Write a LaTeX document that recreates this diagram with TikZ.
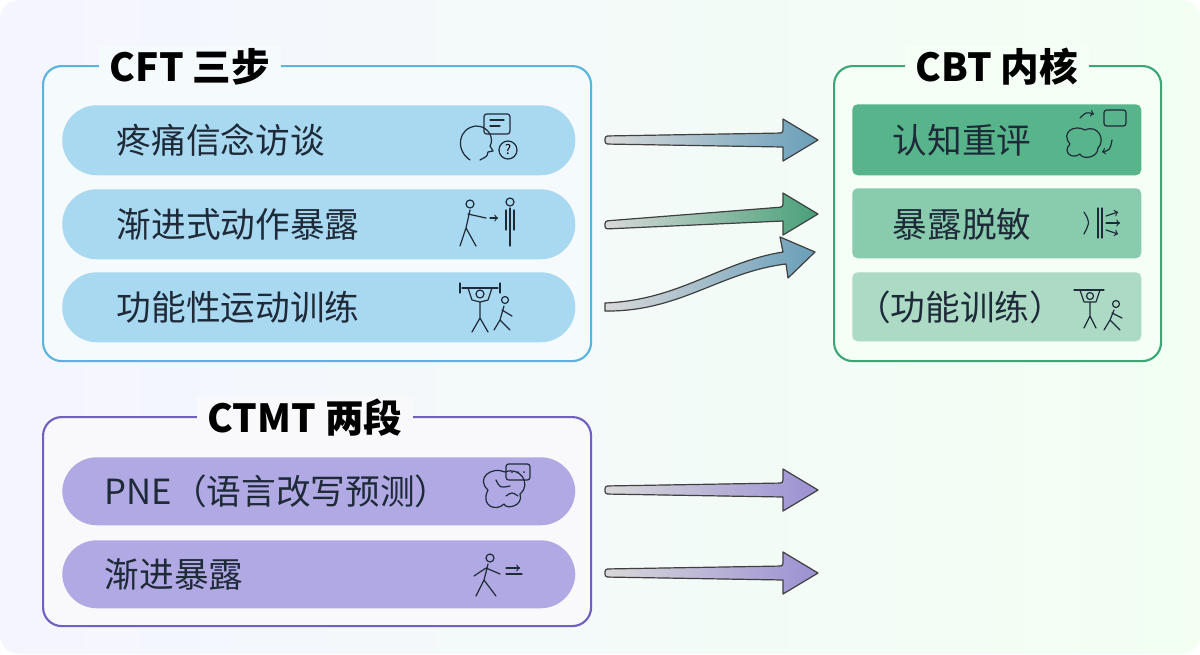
\documentclass[tikz,border=0pt]{standalone}
\usepackage{fontspec}
\setmainfont{Noto Sans CJK SC}
\usetikzlibrary{calc}
\definecolor{cftb}{HTML}{5AB4E0}
\definecolor{cftp}{HTML}{A9D8F1}
\definecolor{cbtb}{HTML}{3AA876}
\definecolor{ctb}{HTML}{7060C0}
\definecolor{ctp}{HTML}{B1A9E3}
\definecolor{ink}{HTML}{1E2A38}
\begin{document}
\begin{tikzpicture}[x=0.75pt,y=-0.75pt,
  box/.style={rounded corners=14pt,line width=1.6pt},
  pill/.style={rounded corners=26pt,draw=none},
  tile/.style={rounded corners=4pt,draw=none},
  ttl/.style={font=\bfseries\fontsize{29}{32}\selectfont,text=black,inner xsep=8pt,inner ysep=2pt},
  lbl/.style={font=\fontsize{26}{30}\selectfont,text=ink,anchor=west},
  clbl/.style={font=\fontsize{26}{30}\selectfont,text=ink},
  ic/.style={draw=ink,line width=0.9pt,line cap=round,line join=round},
  arr/.style={draw=black!75,line width=0.9pt,line join=round}]
\useasboundingbox (0,0) rectangle (1200,654);
\shade[left color=blue!4,right color=green!5,rounded corners=14pt] (0,0) rectangle (1200,654);
% CFT
\node[box,draw=cftb,fill=cftb!6,minimum width=548*0.75pt,minimum height=295*0.75pt,anchor=north west] (cft) at (42,65) {};
\node[ttl,fill=cftb!6] (cftt) at (190,67) {CFT 三步};
\node[pill,fill=cftp,minimum width=513*0.75pt,minimum height=70*0.75pt,anchor=north west] (p1) at (62,105) {};
\node[pill,fill=cftp,minimum width=513*0.75pt,minimum height=70*0.75pt,anchor=north west] (p2) at (62,189) {};
\node[pill,fill=cftp,minimum width=513*0.75pt,minimum height=70*0.75pt,anchor=north west] (p3) at (62,272) {};
\node[lbl] (l1) at (112,140) {疼痛信念访谈};
\node[lbl] (l2) at (112,224) {渐进式动作暴露};
\node[lbl] (l3) at (112,307) {功能性运动训练};
% CBT
\node[box,draw=cbtb,fill=green!4,minimum width=327*0.75pt,minimum height=295*0.75pt,anchor=north west] (cbt) at (833,65) {};
\node[ttl,fill=green!4] (cbtt) at (997,67) {CBT 内核};
\node[tile,fill=cbtb!85,minimum width=289*0.75pt,minimum height=71*0.75pt,anchor=north west] (g1) at (852,104) {};
\node[tile,fill=cbtb!60,minimum width=289*0.75pt,minimum height=70*0.75pt,anchor=north west] (g2) at (852,188) {};
\node[tile,fill=cbtb!42,minimum width=289*0.75pt,minimum height=69*0.75pt,anchor=north west] (g3) at (852,272) {};
\node[clbl] (m1) at (962,140) {认知重评};
\node[clbl] (m2) at (962,224) {暴露脱敏};
\node[clbl] (m3) at (960,307) {（功能训练）};
% CTMT
\node[box,draw=ctb,fill=ctb!4,minimum width=548*0.75pt,minimum height=209*0.75pt,anchor=north west] (ct) at (42,416) {};
\node[ttl,fill=ctb!4] (ctt) at (305,418) {CTMT 两段};
\node[pill,fill=ctp,minimum width=513*0.75pt,minimum height=68*0.75pt,anchor=north west] (q1) at (62,457) {};
\node[pill,fill=ctp,minimum width=513*0.75pt,minimum height=68*0.75pt,anchor=north west] (q2) at (62,540) {};
\node[lbl] (k1) at (100,491) {PNE（语言改写预测）};
\node[lbl] (k2) at (100,574) {渐进暴露};
% arrows
\foreach \n/\y/\yy/\c in {a/140/140/cftb!60!gray, b/225/214/cbtb!80!gray, d/490/490/ctb!70, e/573/573/ctb!70}{
 \coordinate (\n s) at (605,\y); \coordinate (\n e) at (818,\yy);
 \fill[arr,rounded corners=2pt,left color=gray!30,right color=\c] ($(\n s)+(0,-4)$) -- ($(\n e)+(-35,-7)$) [sharp corners] -- ($(\n e)+(-35,-21)$) -- (\n e) -- ($(\n e)+(-35,21)$) -- ($(\n e)+(-35,7)$) [rounded corners=2pt] -- ($(\n s)+(0,4)$) -- cycle;
}
\coordinate (cs) at (605,307); \coordinate (ce) at (815,252);
\fill[arr,left color=gray!30,right color=cftb!60!gray] ($(cs)+(0,-4)$) .. controls (680,300) and (720,262) .. (783,252) -- (780,237) -- (ce) -- (788,278) -- (786,264) .. controls (720,272) and (680,312) .. ($(cs)+(0,4)$) -- cycle;
% icons
\begin{scope}[ic]
 \draw (470,160) .. controls (455,150) and (458,128) .. (476,126) .. controls (490,126) and (494,140) .. (490,146) -- (493,151) -- (488,152) .. controls (488,158) and (482,158) .. (480,160);
 \draw[rounded corners=2pt] (484,114) rectangle (510,134); \draw (490,120)--(504,120) (490,126)--(500,126);
 \draw (508,150) circle (9); \node[font=\fontsize{10}{10}\selectfont] (qm) at (508,150) {?};
 \draw (470,204) circle (4); \draw (470,210)--(466,228)--(460,246) (466,228)--(476,246) (468,214)--(486,218);
 \draw[->] (490,218)--(498,218);
 \draw (510,202) circle (4); \draw (510,208)--(510,246) (506,210)--(506,230) (514,210)--(514,230);
 \draw (462,288)--(498,288); \draw (460,283)--(460,293) (500,283)--(500,293);
 \draw (480,294) circle (4); \draw (468,288)--(472,300)--(480,302)--(488,300)--(492,288) (480,302)--(480,318)--(472,332) (480,318)--(488,332);
 \draw (505,300) circle (3.5); \draw (504,306)--(500,320)--(494,330) (500,320)--(510,330) (502,310)--(512,316);
 \draw (488,490) .. controls (475,478) and (492,466) .. (505,472) .. controls (520,466) and (532,484) .. (520,494) .. controls (524,506) and (506,510) .. (504,504) .. controls (496,512) and (480,506) .. (488,490);
 \draw (496,480)..controls (500,488)..(510,486) (506,496)..controls(512,492)..(518,496);
 \draw[rounded corners=2pt] (506,464) rectangle (530,480); \fill[ink] (512,472) circle(1) (518,472) circle(1) (524,472) circle(1);
 \draw (490,558) circle (4); \draw (488,564)--(484,580)--(476,596) (484,580)--(496,596) (486,568)--(500,574) (486,568)--(474,576);
 \draw[->] (506,574)--(522,574) (506,568)--(520,568);
 \draw (1070,144) .. controls (1060,132) and (1075,124) .. (1085,130) .. controls (1098,124) and (1106,140) .. (1098,148) .. controls (1098,158) and (1082,160) .. (1080,154) .. controls (1072,160) and (1062,152) .. (1070,144);
 \draw[rounded corners=2pt] (1104,110) rectangle (1126,126); \draw[->] (1080,118)..controls(1086,112)..(1094,114); \draw[->] (1112,140)..controls(1110,150)..(1102,152);
 \draw (1098,208)--(1098,238) (1102,208)--(1102,238);
 \draw (1084,212)..controls(1090,222)..(1084,234); \draw[->] (1106,216)--(1118,212); \draw[->] (1106,230)--(1118,234); \draw[->] (1106,223)--(1120,223);
 \draw (1074,290)--(1104,290); \draw (1090,296) circle (3.5); \draw (1080,290)--(1084,302)--(1096,302)--(1100,290) (1090,302)--(1090,316)--(1084,328) (1090,316)--(1096,328);
 \draw (1116,304) circle (3.5); \draw (1114,310)--(1110,320)--(1104,330) (1110,320)--(1120,330) (1112,313)--(1122,318);
\end{scope}
\end{tikzpicture}
\end{document}
